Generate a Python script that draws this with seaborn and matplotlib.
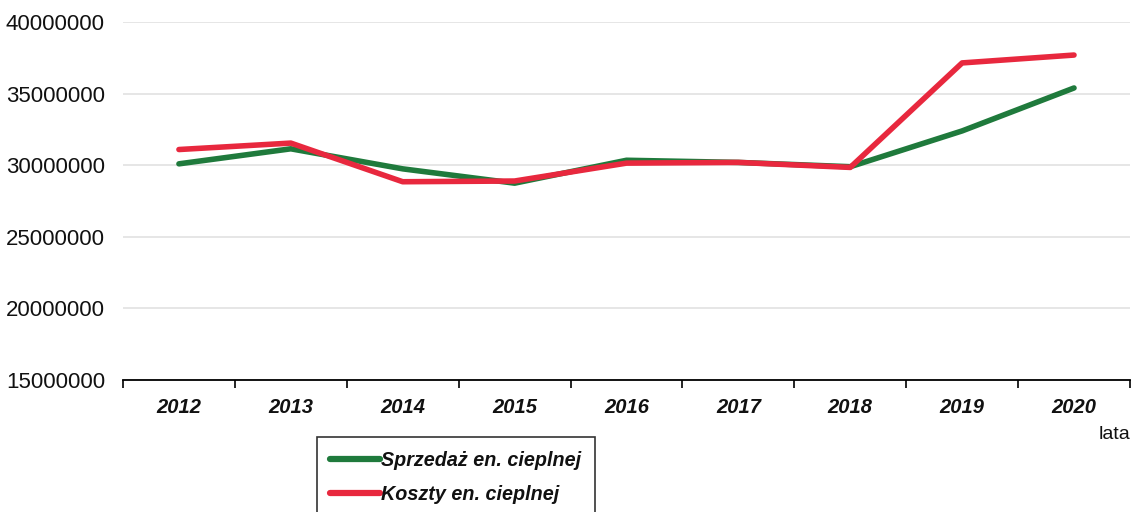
import matplotlib
matplotlib.use("Agg")
import matplotlib.pyplot as plt
import seaborn as sns
import pandas as pd
from matplotlib.lines import Line2D
from matplotlib.ticker import FixedLocator

# Dane
lata = ["2012", "2013", "2014", "2015", "2016", "2017", "2018", "2019", "2020"]
sprzedaz = [30100000, 31150000, 29750000, 28750000, 30350000, 30200000, 29900000, 32400000, 35400000]
koszty = [31100000, 31550000, 28850000, 28900000, 30150000, 30200000, 29850000, 37150000, 37700000]

nazwa_sprzedaz = "Sprzedaż en. cieplnej"
nazwa_koszty = "Koszty en. cieplnej"

kolory = {nazwa_sprzedaz: "#1f7a3c", nazwa_koszty: "#e8283e"}

df = pd.DataFrame({
    "poz": list(range(len(lata))) * 2,
    "wartosc": sprzedaz + koszty,
    "seria": [nazwa_sprzedaz] * len(lata) + [nazwa_koszty] * len(lata),
})

sns.set_style("white")
plt.rcParams["font.family"] = ["Liberation Sans", "DejaVu Sans"]
plt.rcParams["text.color"] = "#111111"
plt.rcParams["xtick.color"] = "#111111"
plt.rcParams["ytick.color"] = "#111111"

fig = plt.figure(figsize=(11.43, 5.12), dpi=100)
ax = fig.add_axes([0.1076, 0.2578, 0.881, 0.699])

sns.lineplot(data=df, x="poz", y="wartosc", hue="seria", palette=kolory,
             linewidth=4.0, ax=ax, legend=False)

ax.set_xlim(-0.5, len(lata) - 0.5)
ax.set_ylim(15000000, 40000000)
ax.set_yticks(range(15000000, 40000001, 5000000))
ax.set_yticklabels([str(v) for v in range(15000000, 40000001, 5000000)], fontsize=16)
ax.yaxis.grid(True, color="#e2e2e2", linewidth=1.2)
ax.tick_params(axis="y", length=0, pad=13)

ax.set_xticks(range(len(lata)))
ax.set_xticklabels(lata, fontsize=14.5, fontweight="bold", fontstyle="italic")
ax.tick_params(axis="x", which="major", bottom=False, length=0, pad=13)
ax.xaxis.set_minor_locator(FixedLocator([i - 0.5 for i in range(len(lata) + 1)]))
ax.tick_params(axis="x", which="minor", bottom=True, length=6, width=1.2,
               color="black", direction="out")
ax.set_xlabel("")
ax.set_ylabel("")

for s in ["top", "right", "left"]:
    ax.spines[s].set_visible(False)
ax.spines["bottom"].set_color("black")
ax.spines["bottom"].set_linewidth(1.3)

fig.text(0.989, 0.152, "lata", ha="right", va="center", fontsize=14)

uchwyty = [
    Line2D([0], [0], color=kolory[nazwa_sprzedaz], linewidth=4.5),
    Line2D([0], [0], color=kolory[nazwa_koszty], linewidth=4.5),
    Line2D([0], [0], color="white", linewidth=0),
]
leg = fig.legend(uchwyty, [nazwa_sprzedaz, nazwa_koszty, " "],
                 loc="upper left", bbox_to_anchor=(0.277, 0.147),
                 frameon=True, fancybox=False, edgecolor="black",
                 handlelength=2.5, handletextpad=0.05, labelspacing=0.8,
                 borderpad=0.7, borderaxespad=0,
                 prop={"size": 14.2, "weight": "bold", "style": "italic"})
leg.get_frame().set_linewidth(1.2)

fig.savefig("out.png", dpi=100)
